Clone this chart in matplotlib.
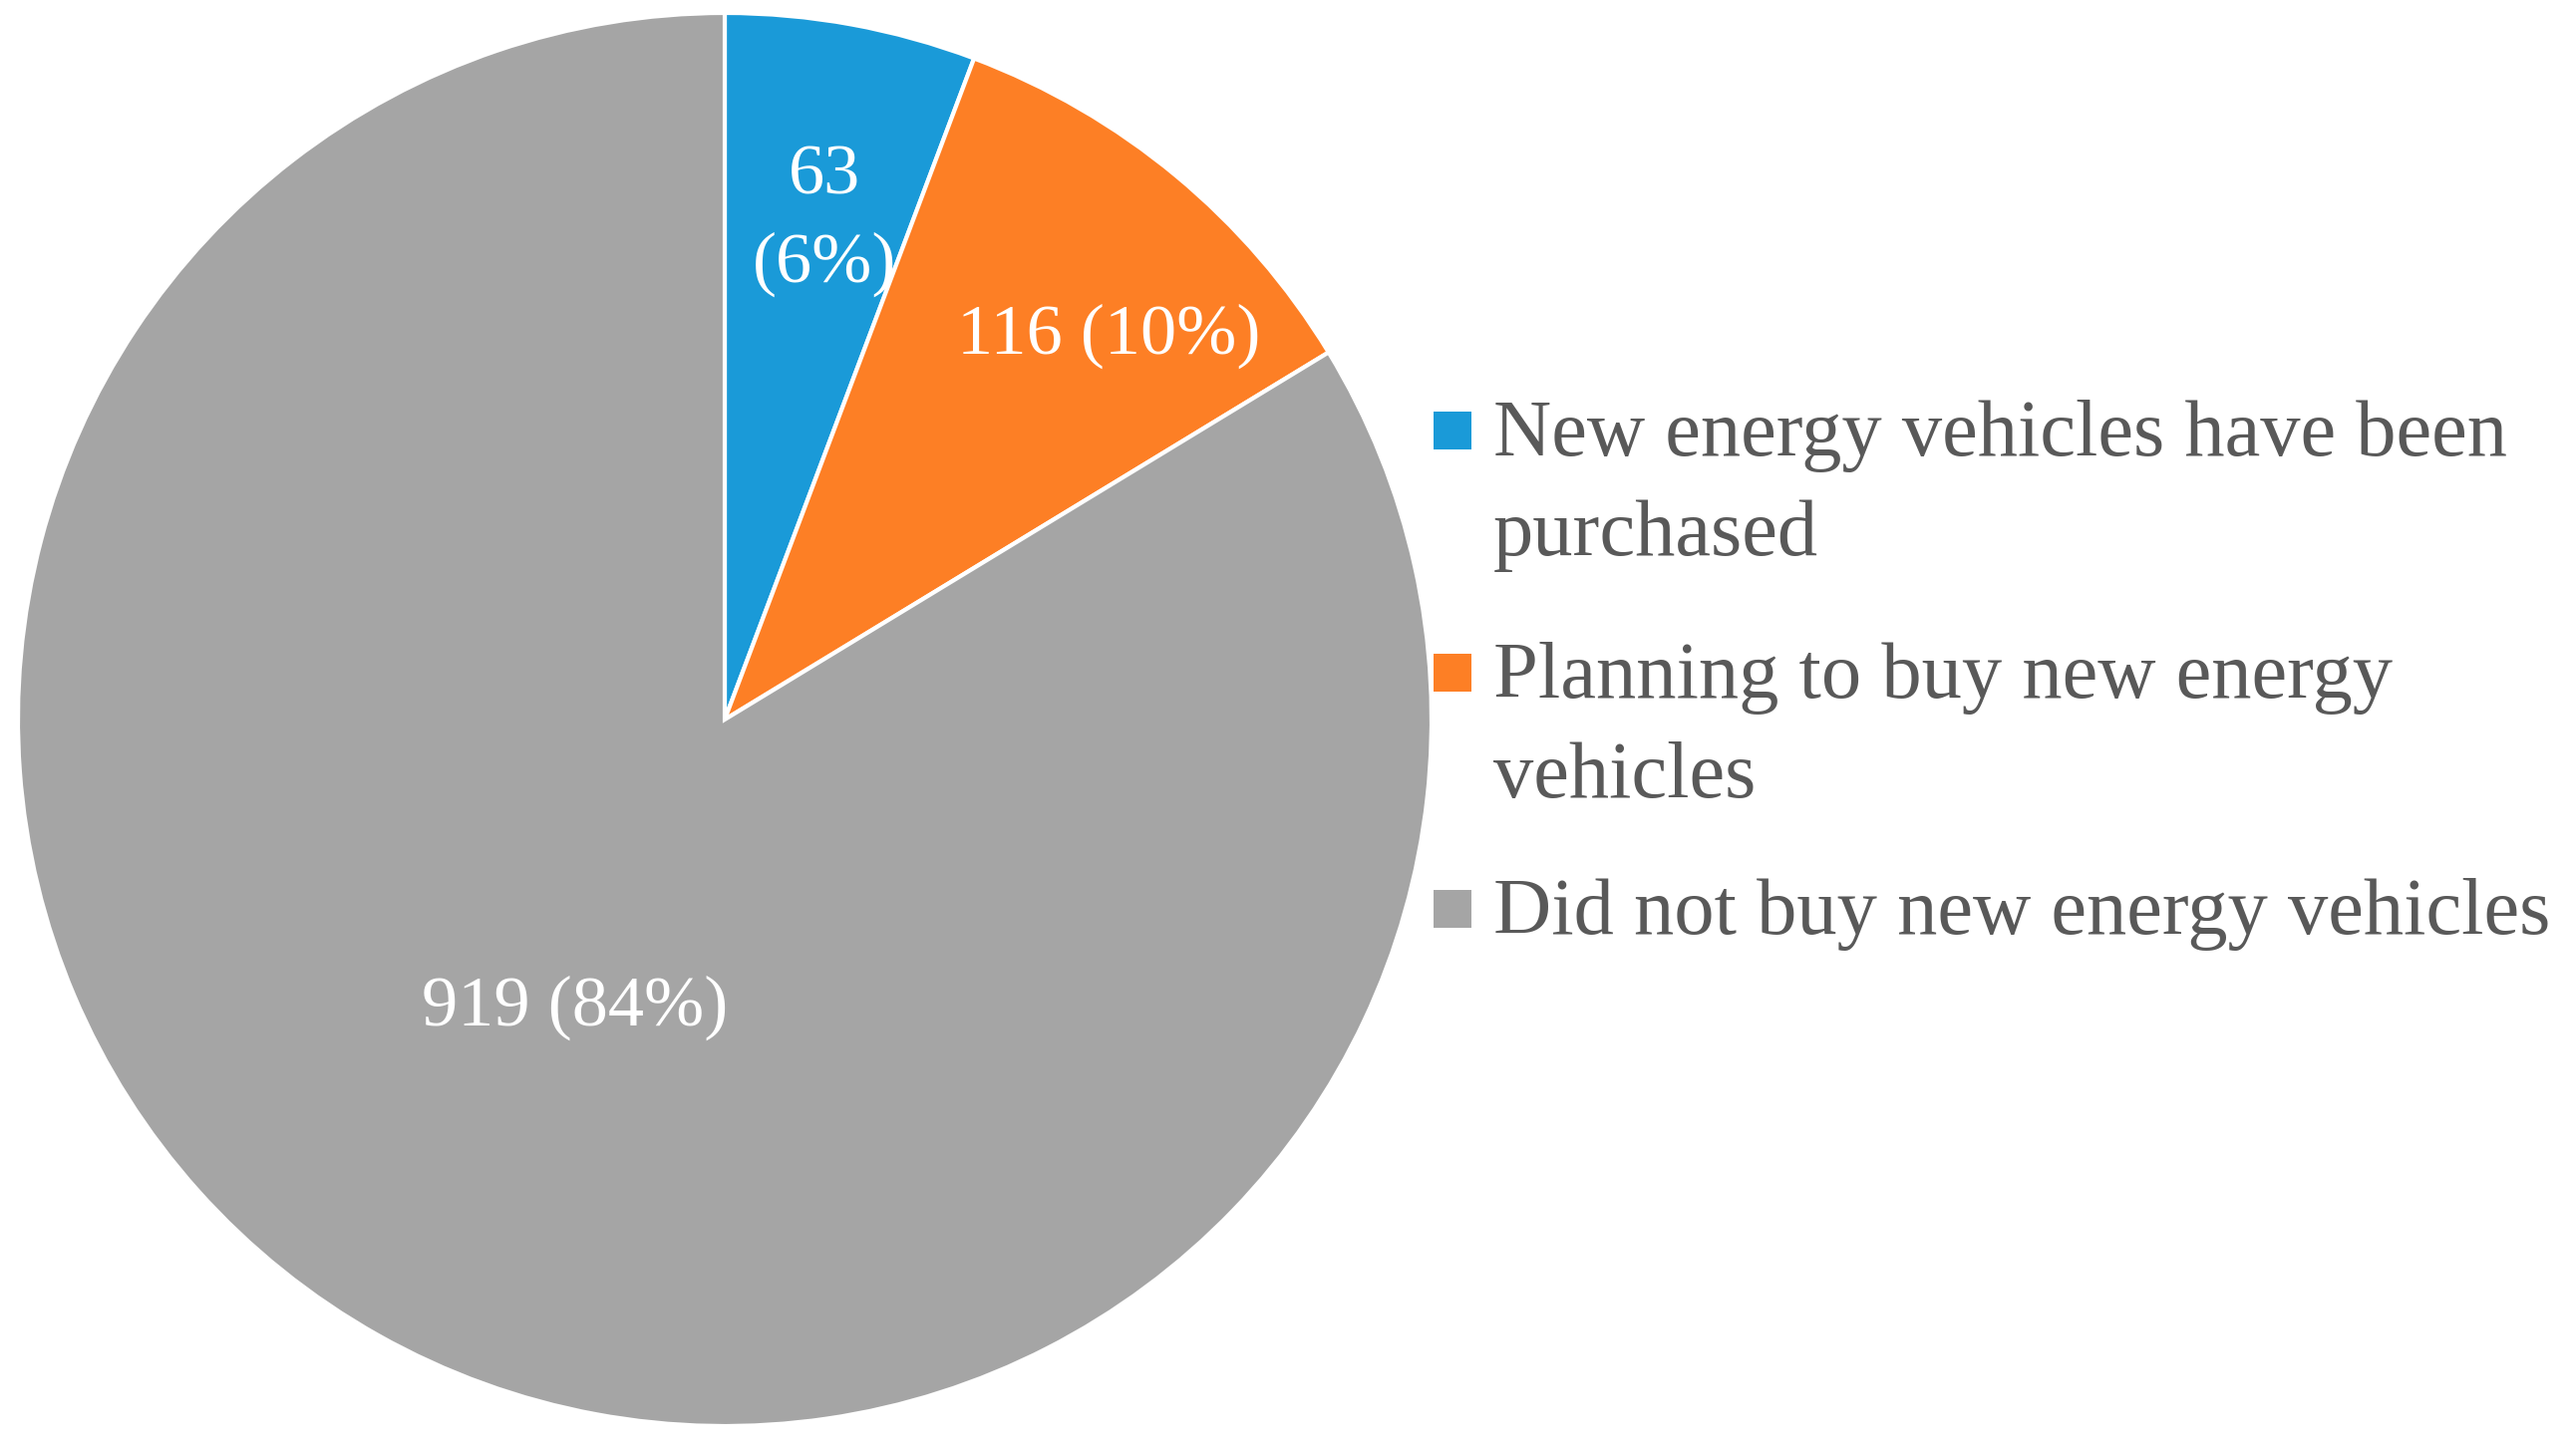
import matplotlib
matplotlib.use("Agg")
import matplotlib.pyplot as plt
import numpy as np
from matplotlib.patches import Rectangle

categories = [
    "New energy vehicles have been\npurchased",
    "Planning to buy new energy\nvehicles",
    "Did not buy new energy vehicles",
]
counts = [63, 116, 919]
percent_labels = ["6%", "10%", "84%"]
colors = ["#1A9AD8", "#FD7F25", "#A5A5A5"]

W, H = 2584, 1455
plt.rcParams["font.family"] = ["Liberation Serif", "DejaVu Serif"]

fig = plt.figure(figsize=(W / 100, H / 100), dpi=100)

# pie centre and radius in pixels (from the top left)
cx, cy, rad = 727, 722, 709
ax = fig.add_axes([(cx - rad) / W, (H - cy - rad) / H, 2 * rad / W, 2 * rad / H])
wedges, _ = ax.pie(counts, colors=colors, startangle=90, counterclock=False,
                   radius=1, wedgeprops=dict(edgecolor="white", linewidth=3))
ax.set_xlim(-1, 1)
ax.set_ylim(-1, 1)
ax.set_aspect("equal")
ax.axis("off")

# label placement: (radius fraction, angle in degrees)
label_pos = [(0.72, 78.7), (0.768, 45.0), (0.46, 242.6)]
label_text = [f"{counts[0]}\n({percent_labels[0]})",
              f"{counts[1]} ({percent_labels[1]})",
              f"{counts[2]} ({percent_labels[2]})"]
for (r, ang), txt in zip(label_pos, label_text):
    a = np.deg2rad(ang)
    ax.text(r * np.cos(a), r * np.sin(a), txt, color="white", fontsize=52,
            ha="center", va="center", linespacing=1.45)


def fx(x):
    return x / W


def fy(y):
    return 1 - y / H


# legend drawn by hand so that each square sits on the first line
first_baselines = [457, 700, 937]
line_step = 100
for cat, col, base in zip(categories, colors, first_baselines):
    fig.add_artist(Rectangle((fx(1438), fy(base - 6)), 38 / W, 38 / H,
                             transform=fig.transFigure, facecolor=col,
                             edgecolor="none"))
    for i, line in enumerate(cat.split("\n")):
        fig.text(fx(1498), fy(base + i * line_step), line, fontsize=58,
                 color="#595959", ha="left", va="baseline")

fig.savefig("out.png", dpi=100)
